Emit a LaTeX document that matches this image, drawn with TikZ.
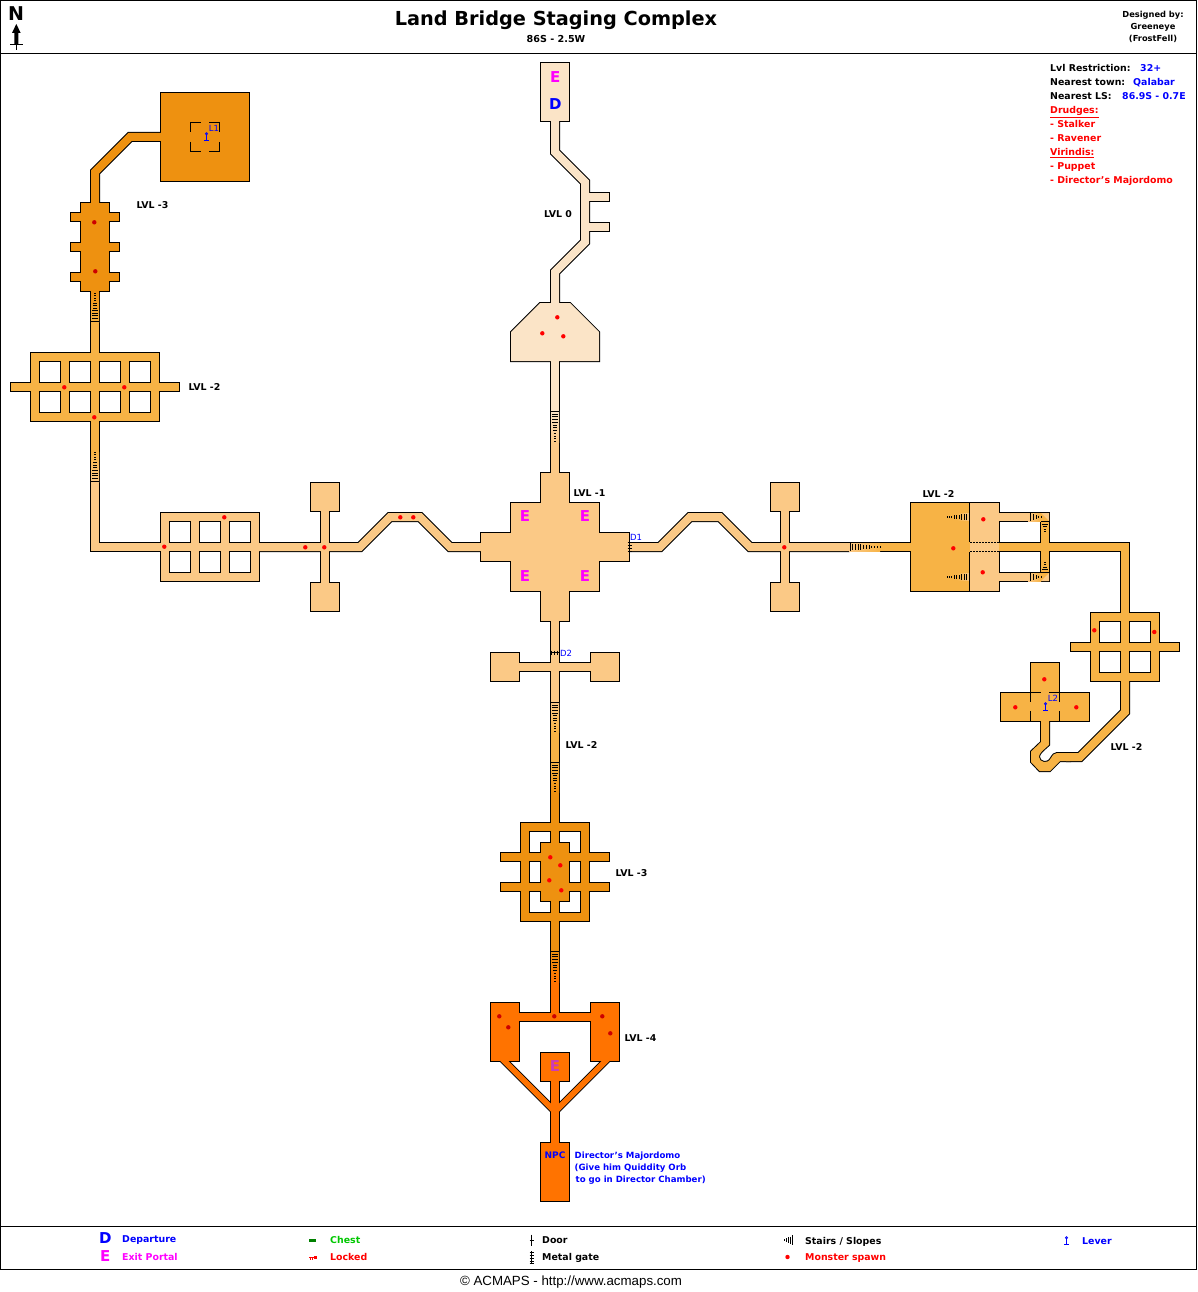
\documentclass[tikz,border=0pt]{standalone}
\usepackage{fontspec}
\usepackage{tikz}
\setmainfont{DejaVu Sans}
\newfontfamily\creditfont{Liberation Sans}

\definecolor{lvlzero}{HTML}{FBE4C7}
\definecolor{lvlone}{HTML}{FBC986}
\definecolor{lvltwo}{HTML}{F7B345}
\definecolor{lvlthree}{HTML}{EE9110}
\definecolor{lvlfour}{HTML}{FF7300}
\definecolor{mapblue}{HTML}{0000FF}
\definecolor{mapgreen}{HTML}{00C800}
\definecolor{mapred}{HTML}{FF0000}
\definecolor{mappink}{HTML}{FF00FF}
\definecolor{mapdim}{HTML}{CC3BB8}

\pgfdeclarelayer{walls}
\pgfsetlayers{walls,main}

\tikzset{
    wall/.style={draw=black, line width=2pt, line join=miter},
    wallline/.style={black, line width=1pt},
    hole/.style={fill=white, draw=black, line width=1pt},
    spawn/.style={fill=mapred},
    spawndark/.style={fill=mapred!80!black},
    lvltext/.style={anchor=west, inner sep=0pt, text height=7pt, text depth=0pt, font=\fontsize{9.4}{10}\selectfont\bfseries},
    info/.style={anchor=west, inner sep=0pt, text height=7pt, text depth=0pt, font=\fontsize{9.4}{10}\selectfont\bfseries},
    npctext/.style={anchor=west, inner sep=0pt, text height=7pt, text depth=0pt, text=mapblue, font=\fontsize{8.6}{10}\selectfont\bfseries},
    heading/.style={anchor=center, inner sep=0pt, text height=7pt, text depth=0pt, font=\fontsize{8.3}{9}\selectfont\bfseries},
    tagtext/.style={anchor=center, inner sep=0pt, text=mapblue, font=\fontsize{8.5}{9}\selectfont},
    bigletter/.style={anchor=center, inner sep=0pt, font=\fontsize{15}{15}\selectfont\bfseries},
}

% floor on top, its black rim on the layer below
\newcommand{\area}[2]{
    \begin{pgfonlayer}{walls}
        \draw[wall] #2;
    \end{pgfonlayer}
    \fill[#1] #2;
}
\newcommand{\room}[5]{\area{#1}{({#2+1},{#3+1}) rectangle ({#4-1},{#5-1})}}
\newcommand{\corr}[2]{
    \begin{pgfonlayer}{walls}
        \draw[black, line width=10pt, line join=miter] #2;
    \end{pgfonlayer}
    \draw[#1, line width=8pt, line join=miter] #2;
}
% corridor pieces where the level changes
\newcommand{\rampv}[5]{
    \begin{pgfonlayer}{walls}
        \draw[black, line width=10pt] (#1,#2) -- (#1,#3);
    \end{pgfonlayer}
    \shade[top color=#4, bottom color=#5] ({#1-4},#2) rectangle ({#1+4},#3);
}
\newcommand{\ramph}[5]{
    \begin{pgfonlayer}{walls}
        \draw[black, line width=10pt] (#2,#1) -- (#3,#1);
    \end{pgfonlayer}
    \shade[left color=#4, right color=#5] (#2,{#1-4}) rectangle (#3,{#1+4});
}
\newcommand{\stairs}[6]{
    \foreach \k in {0,...,#5}{
        \pgfmathsetmacro{\cx}{#1+(#3-#1)*\k/#5}
        \pgfmathsetmacro{\cy}{#2+(#4-#2)*\k/#5}
        \pgfmathsetmacro{\hw}{#6-(#6-0.7)*\k/#5}
        \pgfmathsetmacro{\ux}{(#4-#2)/veclen(#3-#1,#4-#2)}
        \pgfmathsetmacro{\uy}{(#3-#1)/veclen(#3-#1,#4-#2)}
        \draw[black, line width=1pt] ({\cx-\ux*\hw},{\cy-\uy*\hw}) -- ({\cx+\ux*\hw},{\cy+\uy*\hw});
    }
}
\newcommand{\lever}[2]{
    \draw[mapblue, line width=0.8pt] ({#1},{#2-3.2}) circle (1.1pt);
    \draw[mapblue, line width=0.8pt] ({#1},{#2-2}) -- ({#1},{#2+3.5});
    \draw[mapblue, line width=1pt] ({#1-2.5},{#2+3.5}) -- ({#1+2.5},{#2+3.5});
}

\begin{document}
\begin{tikzpicture}[x=1pt, y=-1pt]
    \useasboundingbox (0,0) rectangle (1197,1292);
    \begin{pgfonlayer}{walls}
        \fill[white] (0,0) rectangle (1197,1292);
    \end{pgfonlayer}

    % frame
    \draw[black, line width=1pt] (0.5,0.5) rectangle (1196.5,1269.5);
    \draw[black, line width=1pt] (0,53.5) -- (1197,53.5);
    \draw[black, line width=1pt] (0,1226.5) -- (1197,1226.5);

    % north arrow
    \node[anchor=center, inner sep=0pt, font=\fontsize{19}{19}\selectfont\bfseries] (north) at (16,13.5) {N};
    \fill[black] (16.3,24) -- (20.7,33) -- (18.3,33) -- (18.3,45) -- (14.3,45) -- (14.3,33) -- (12,33) -- cycle;
    \draw[black, line width=1pt] (10,44.5) -- (23,44.5);
    \draw[black, line width=1pt] (16.3,44) -- (16.3,50);

    % level 0
    \room{lvlzero}{540}{62}{570}{122}
    \room{lvlzero}{580}{192}{610}{202}
    \room{lvlzero}{580}{222}{610}{232}
    \corr{lvlzero}{(555,120) -- (555,152) -- (585,182) -- (585,242) -- (555,272) -- (555,304)}
    \area{lvlzero}{(540,303) -- (570,303) -- (599,332) -- (599,361) -- (511,361) -- (511,332) -- cycle}
    \corr{lvlzero}{(555,360) -- (555,411.5)}
    \rampv{555}{411}{442}{lvlzero}{lvlone}
    \corr{lvlone}{(555,441.5) -- (555,474)}

    % level -1, middle
    \room{lvlone}{480}{532}{630}{562}
    \room{lvlone}{510}{502}{600}{592}
    \room{lvlone}{540}{472}{570}{622}

    % level -1, west wing
    \corr{lvlone}{(95,481.5) -- (95,547) -- (162,547)}
    \room{lvlone}{160}{512}{260}{582}
    \corr{lvlone}{(258,547) -- (360,547) -- (390,517) -- (420,517) -- (450,547) -- (482,547)}
    \corr{lvlone}{(325,510) -- (325,584)}
    \room{lvlone}{310}{482}{340}{512}
    \room{lvlone}{310}{582}{340}{612}

    % level -1, east wing
    \corr{lvlone}{(628,547) -- (660,547) -- (690,517) -- (720,517) -- (750,547) -- (849.5,547)}
    \corr{lvlone}{(785,510) -- (785,584)}
    \room{lvlone}{770}{482}{800}{512}
    \room{lvlone}{770}{582}{800}{612}
    \ramph{547}{849}{880}{lvlone}{lvltwo}
    \corr{lvltwo}{(879.5,547) -- (912,547)}

    % level -1, south wing
    \corr{lvlone}{(555,620) -- (555,702.5)}
    \corr{lvlone}{(518,667) -- (592,667)}
    \room{lvlone}{490}{652}{520}{682}
    \room{lvlone}{590}{652}{620}{682}
    \rampv{555}{702}{732}{lvlone}{lvltwo}
    \corr{lvltwo}{(555,731.5) -- (555,762.5)}
    \rampv{555}{762}{792}{lvltwo}{lvlthree}
    \corr{lvlthree}{(555,791.5) -- (555,824)}

    % level -2, north west
    \corr{lvlthree}{(162,137) -- (130,137) -- (95,172) -- (95,204)}
    \corr{lvlthree}{(95,290) -- (95,292.5)}
    \rampv{95}{292}{322}{lvlthree}{lvltwo}
    \corr{lvltwo}{(95,321.5) -- (95,354)}
    \room{lvltwo}{30}{352}{160}{422}
    \room{lvltwo}{10}{382}{180}{392}
    \corr{lvltwo}{(95,420) -- (95,452.5)}
    \rampv{95}{452}{482}{lvltwo}{lvlone}

    % level -3, north west
    \room{lvlthree}{160}{92}{250}{182}
    \room{lvlthree}{80}{202}{110}{292}
    \room{lvlthree}{70}{212}{120}{222}
    \room{lvlthree}{70}{242}{120}{252}
    \room{lvlthree}{70}{272}{120}{282}
    \draw[wallline] (190.5,132) -- (190.5,122.5) -- (201,122.5);
    \draw[wallline] (209,122.5) -- (219.5,122.5) -- (219.5,132);
    \draw[wallline] (190.5,142) -- (190.5,151.5) -- (201,151.5);
    \draw[wallline] (209,151.5) -- (219.5,151.5) -- (219.5,142);

    % level -2, east
    \area{lvltwo}{(911,503) rectangle (971,591)}
    \area{lvlone}{(970,503) rectangle (999,591)}
    \area{lvlone}{(998,513) rectangle (1049,521)}
    \area{lvlone}{(998,573) rectangle (1049,581)}
    \corr{lvltwo}{(999,547) -- (1125,547) -- (1125,614)}
    \area{lvltwo}{(1041,513) rectangle (1049,581)}
    \shade[left color=lvlone, right color=lvltwo] (1028,513) rectangle (1041,521);
    \shade[left color=lvlone, right color=lvltwo] (1028,573) rectangle (1041,581);
    \fill[lvlone] (1041,513) -- (1049,513) -- (1049,521) -- cycle;
    \fill[lvlone] (1041,581) -- (1049,581) -- (1049,573) -- cycle;
    \shade[left color=lvltwo, right color=lvlone] (957,513.5) rectangle (970,520.5);
    \shade[left color=lvltwo, right color=lvlone] (957,573.5) rectangle (970,580.5);
    \draw[wallline] (969.5,502) -- (969.5,513.5);
    \draw[wallline] (969.5,520.5) -- (969.5,542);
    \draw[wallline] (969.5,552) -- (969.5,573.5);
    \draw[wallline] (969.5,580.5) -- (969.5,592);
    \draw[wallline, dash pattern=on 2pt off 1pt] (970,542.5) -- (999,542.5);
    \draw[wallline, dash pattern=on 2pt off 1pt] (970,551.5) -- (999,551.5);

    \room{lvltwo}{1090}{612}{1160}{682}
    \room{lvltwo}{1070}{642}{1180}{652}
    \corr{lvltwo}{(1125,680) -- (1125,712) -- (1080,757) -- (1066,757)}
    \area{lvltwo}{(1041,720) -- (1041,742) -- (1031,751.5) -- (1031,762) -- (1039.5,771) -- (1050,771) -- (1060,761) -- (1070,761) -- (1070,753) -- (1057,753) .. controls (1054,753) and (1053,755) .. (1051,758) .. controls (1049,762) and (1046,762) .. (1044,762) .. controls (1041,762) and (1039,759) .. (1039,757) .. controls (1039,754) and (1041,752) .. (1049,745) -- (1049,720) -- cycle}
    \room{lvltwo}{1030}{662}{1060}{722}
    \room{lvltwo}{1000}{692}{1090}{722}
    \draw[wallline] (1030.5,692) -- (1030.5,702);
    \draw[wallline] (1030.5,711) -- (1030.5,722);
    \draw[wallline] (1059.5,692) -- (1059.5,702);
    \draw[wallline] (1059.5,711) -- (1059.5,722);
    \draw[wallline] (1030,692.5) -- (1041,692.5);
    \draw[wallline] (1049,692.5) -- (1060,692.5);

    % level -3, south
    \room{lvlthree}{520}{822}{590}{922}
    \room{lvlthree}{500}{852}{610}{862}
    \room{lvlthree}{500}{882}{610}{892}
    \corr{lvlthree}{(555,920) -- (555,951.5)}
    \rampv{555}{951}{982}{lvlthree}{lvlfour}

    % level -4
    \room{lvlfour}{490}{1002}{520}{1062}
    \room{lvlfour}{590}{1002}{620}{1062}
    \corr{lvlfour}{(555,981.5) -- (555,1015)}
    \corr{lvlfour}{(518,1017) -- (592,1017)}
    \area{lvlfour}{(499.5,1060) -- (507.3,1060) -- (551,1103.7) -- (551,1111.5) -- cycle}
    \area{lvlfour}{(610.5,1060) -- (602.7,1060) -- (559,1103.7) -- (559,1111.5) -- cycle}
    \corr{lvlfour}{(555,1080) -- (555,1144)}
    \room{lvlfour}{540}{1052}{570}{1082}
    \room{lvlfour}{540}{1142}{570}{1202}

    % holes in the grid rooms
    \foreach \hx in {40,70,100,130}{
        \draw[hole] ({\hx-0.5},361.5) rectangle ({\hx+20.5},382.5);
        \draw[hole] ({\hx-0.5},391.5) rectangle ({\hx+20.5},412.5);
    }
    \foreach \hx in {170,200,230}{
        \draw[hole] ({\hx-0.5},521.5) rectangle ({\hx+20.5},542.5);
        \draw[hole] ({\hx-0.5},551.5) rectangle ({\hx+20.5},572.5);
    }
    \foreach \hx in {1100,1130}{
        \draw[hole] ({\hx-0.5},621.5) rectangle ({\hx+20.5},642.5);
        \draw[hole] ({\hx-0.5},651.5) rectangle ({\hx+20.5},672.5);
    }
    \draw[hole] (529.5,831.5) -- (550.5,831.5) -- (550.5,842.5) -- (540.5,842.5) -- (540.5,852.5) -- (529.5,852.5) -- cycle;
    \draw[hole] (580.5,831.5) -- (559.5,831.5) -- (559.5,842.5) -- (569.5,842.5) -- (569.5,852.5) -- (580.5,852.5) -- cycle;
    \draw[hole] (529.5,861.5) rectangle (540.5,882.5);
    \draw[hole] (569.5,861.5) rectangle (580.5,882.5);
    \draw[hole] (529.5,912.5) -- (550.5,912.5) -- (550.5,901.5) -- (540.5,901.5) -- (540.5,891.5) -- (529.5,891.5) -- cycle;
    \draw[hole] (580.5,912.5) -- (559.5,912.5) -- (559.5,901.5) -- (569.5,901.5) -- (569.5,891.5) -- (580.5,891.5) -- cycle;

    % stairs, wide end first
    \stairs{95}{321}{95}{293}{11}{3.6}
    \stairs{95}{481}{95}{452}{11}{3.6}
    \stairs{555}{411.5}{555}{441.5}{11}{3.6}
    \stairs{555}{702.5}{555}{731.5}{11}{3.6}
    \stairs{555}{762.5}{555}{791.5}{11}{3.6}
    \stairs{555}{951.5}{555}{981.5}{11}{3.6}
    \stairs{850}{547}{880}{547}{11}{3.6}
    \stairs{969}{517}{947}{517}{9}{3.6}
    \stairs{969}{577}{947}{577}{9}{3.6}
    \stairs{1030.5}{517}{1041.5}{517}{4}{3.6}
    \stairs{1030.5}{577}{1041.5}{577}{4}{3.6}
    \stairs{1045}{521.5}{1045}{531.5}{4}{3.6}
    \stairs{1045}{572.5}{1045}{562}{4}{3.6}

    % doors
    \draw[wallline] (629.5,541) -- (629.5,552);
    \foreach \gy in {542.5,545.5,548.5,551.5}
        \draw[black, line width=0.8pt] (627.5,\gy) -- (631.5,\gy);
    \draw[wallline] (551,652.5) -- (559,652.5);
    \foreach \gx in {551.5,554.5,557.5}
        \draw[black, line width=0.8pt] (\gx,650.5) -- (\gx,654.5);

    % monster spawns
    \foreach \sx/\sy in {94.3/222.3, 95.3/271.3, 499.3/1016.3, 508.3/1027.3, 554.3/1016.3, 602.3/1016.3, 610.3/1033.3}
        \fill[spawndark] (\sx,\sy) circle (2.2pt);
    \foreach \sx/\sy in {557.3/317.3, 542.3/333.3, 563.3/336.3, 64.3/387.3, 124.3/387.3, 94.3/417.3, 164.3/546.7, 224.3/517.3, 305.3/547.3, 324.3/547.3, 400.3/517.3, 413.3/517.3, 784.3/547.3, 983.3/519.3, 953.3/548.3, 982.7/572.3, 1094.3/630.3, 1154.3/632, 1044.3/679.3, 1015.3/707.3, 1076.3/707.3, 550.3/857.3, 560.3/865.3, 549.3/880.3, 561.3/890.3}
        \fill[spawn] (\sx,\sy) circle (2.2pt);

    % levers
    \lever{206.5}{137}
    \lever{1045.5}{707}
    \node[tagtext] (tagA) at (214,128.5) {L1};
    \node[tagtext] (tagB) at (1053,698) {L2};
    \node[tagtext] (tagC) at (636,537) {D1};
    \node[tagtext] (tagD) at (566,653) {D2};

    % portals
    \node[bigletter, text=mappink] (portalTop) at (555.3,77) {E};
    \node[bigletter, text=mapblue] (departTop) at (555.3,104) {D};
    \node[bigletter, text=mappink] (portalA) at (525,516) {E};
    \node[bigletter, text=mappink] (portalB) at (585,516) {E};
    \node[bigletter, text=mappink] (portalC) at (525,576) {E};
    \node[bigletter, text=mappink] (portalD) at (585,576) {E};
    \node[bigletter, text=mapdim] (portalE) at (555,1066.5) {E};
    \node[anchor=center, inner sep=0pt, text=mapblue, font=\fontsize{9}{10}\selectfont\bfseries] (npc) at (555,1155) {NPC};

    % level labels
    \node[lvltext] (lvlNW) at (136.5,205) {LVL -3};
    \node[lvltext] (lvlN) at (544,214) {LVL 0};
    \node[lvltext] (lvlW) at (188.5,387) {LVL -2};
    \node[lvltext] (lvlC) at (573.5,493) {LVL -1};
    \node[lvltext] (lvlE) at (922.5,494) {LVL -2};
    \node[lvltext] (lvlSE) at (1110.5,747) {LVL -2};
    \node[lvltext] (lvlS) at (565.5,745) {LVL -2};
    \node[lvltext] (lvlSS) at (615.5,873) {LVL -3};
    \node[lvltext] (lvlB) at (624.5,1038) {LVL -4};

    \node[npctext] (npcA) at (574.5,1155) {Director\char"27 s Majordomo};
    \node[npctext] (npcB) at (574.5,1167) {(Give him Quiddity Orb};
    \node[npctext] (npcC) at (575.5,1179) {to go in Director Chamber)};

    % heading
    \node[anchor=center, inner sep=0pt, font=\fontsize{19.3}{20}\selectfont\bfseries] (title) at (556,20.5) {Land Bridge Staging Complex};
    \node[anchor=center, inner sep=0pt, font=\fontsize{9.6}{11}\selectfont\bfseries] (place) at (556,39.5) {86S - 2.5W};
    \node[heading] (authorA) at (1153,14.5) {Designed by:};
    \node[heading] (authorB) at (1153,26.5) {Greeneye};
    \node[heading] (authorC) at (1153,38.5) {(FrostFell)};

    % info block
    \node[info] (restr) at (1050,68) {Lvl Restriction:};
    \node[info, text=mapblue] (restrval) at (1140,68) {32+};
    \node[info] (town) at (1050,82) {Nearest town:};
    \node[info, text=mapblue] (townval) at (1133,82) {Qalabar};
    \node[info] (ls) at (1050,96) {Nearest LS:};
    \node[info, text=mapblue] (lsval) at (1122,96) {86.9S - 0.7E};
    \node[info, text=mapred] (drudges) at (1050,110) {\underline{Drudges:}};
    \node[info, text=mapred] (stalker) at (1050,124) {- Stalker};
    \node[info, text=mapred] (ravener) at (1050,138) {- Ravener};
    \node[info, text=mapred] (virindis) at (1050,152) {\underline{Virindis:}};
    \node[info, text=mapred] (puppet) at (1050,166) {- Puppet};
    \node[info, text=mapred] (majordomo) at (1050,180) {- Director\char"27 s Majordomo};

    % legend
    \node[bigletter, text=mapblue] (keyD) at (105.3,1238.5) {D};
    \node[info, text=mapblue] (keyDtext) at (122,1239) {Departure};
    \node[bigletter, text=mappink] (keyE) at (105.3,1256.5) {E};
    \node[info, text=mappink] (keyEtext) at (122,1257) {Exit Portal};

    \fill[green!50!black] (309,1238.5) rectangle (316,1241.5);
    \node[info, text=mapgreen] (keyChest) at (330,1240) {Chest};
    \draw[mapred, line width=1pt] (309,1257.5) -- (314,1257.5);
    \draw[mapred, line width=0.8pt] (310.5,1257.5) -- (310.5,1260);
    \draw[mapred, line width=0.8pt] (312.5,1257.5) -- (312.5,1260);
    \fill[mapred] (314,1255.5) rectangle (317,1258.5);
    \node[info, text=mapred] (keyLocked) at (330,1257) {Locked};

    \draw[wallline] (531.5,1234.5) -- (531.5,1246);
    \draw[black, line width=0.8pt] (529.5,1240) -- (533.5,1240);
    \node[info] (keyDoor) at (542,1240) {Door};
    \draw[wallline] (531.5,1251) -- (531.5,1263.5);
    \foreach \gy in {1252,1255,1258,1261,1263}
        \draw[black, line width=0.8pt] (529.5,\gy) -- (533.5,\gy);
    \node[info] (keyGate) at (542,1257) {Metal gate};

    \draw[black, line width=0.7pt] (784,1239) -- (784,1241);
    \draw[black, line width=0.7pt] (786,1238) -- (786,1242);
    \draw[black, line width=0.7pt] (788,1237) -- (788,1243);
    \draw[black, line width=0.7pt] (790,1236.5) -- (790,1243.5);
    \draw[black, line width=0.7pt] (792,1235) -- (792,1245);
    \node[info] (keyStairs) at (805,1241) {Stairs / Slopes};
    \fill[spawn] (787.5,1257) circle (2.2pt);
    \node[info, text=mapred] (keySpawn) at (805,1257) {Monster spawn};

    \lever{1066.5}{1241}
    \node[info, text=mapblue] (keyLever) at (1082,1241) {Lever};

    % credit
    \node[anchor=center, inner sep=0pt, font=\creditfont\fontsize{13.3}{14}\selectfont] (credit) at (571,1282) {© ACMAPS - http://www.acmaps.com};
\end{tikzpicture}
\end{document}
